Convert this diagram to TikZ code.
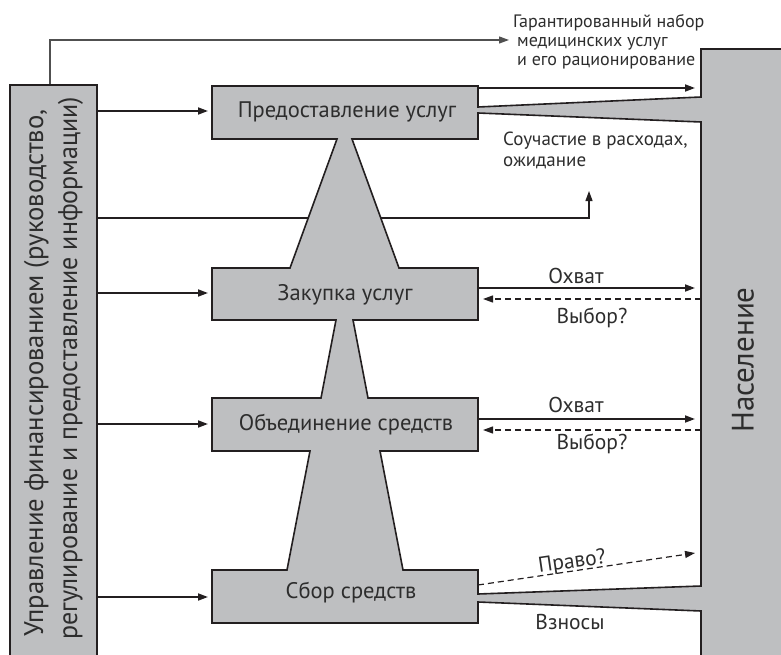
\documentclass[tikz,border=0pt]{standalone}
\usepackage{fontspec}
\usepackage{graphicx}
\setmainfont{PT Sans}
\usetikzlibrary{arrows.meta}
\definecolor{gfill}{RGB}{190,191,193}
\definecolor{inkc}{RGB}{35,31,32}
\definecolor{txtc}{RGB}{45,45,45}
\definecolor{greyline}{RGB}{80,80,80}
\begin{document}
\begin{tikzpicture}[x=1pt,y=-1pt,
  shapeline/.style={draw=inkc,line width=1.6pt,fill=gfill,line join=miter},
  arr/.style={draw=inkc,line width=1.8pt,-{Triangle[length=10pt,width=7pt]}},
  darr/.style={draw=inkc,line width=1.2pt,dash pattern=on 6pt off 4pt,-{Triangle[length=10pt,width=7pt]}},
  thinarr/.style={draw=inkc,line width=1.2pt,-{Triangle[length=10pt,width=7pt]}},
  greyarr/.style={draw=greyline,line width=1.2pt,-{Triangle[length=10pt,width=7pt]}},
  lbl/.style={text=txtc,font=\fontsize{21.5}{20}\selectfont,inner sep=0pt},
  notelbl/.style={text=txtc,font=\fontsize{19}{21}\selectfont,inner sep=0pt},
  boxlbl/.style={text=txtc,font=\fontsize{22.5}{22}\selectfont,inner sep=0pt},
  biglbl/.style={text=txtc,font=\fontsize{27}{27}\selectfont,inner sep=0pt},
  poplbl/.style={text=txtc,font=\fontsize{31}{31}\selectfont,inner sep=0pt},
]
\clip (0,0) rectangle (781,655);

% connectors drawn behind the shapes
\coordinate (lbtop) at (50,84);
\coordinate (garend) at (509,40);
\coordinate (soL) at (96,218);
\coordinate (soEnd) at (589,191);
\draw[greyarr] (lbtop) |- (garend);
\draw[thinarr] (soL) -| (soEnd);

% left box
\node[shapeline,minimum width=87pt,minimum height=586pt,inner sep=0pt,anchor=north west] (lbox) at (9,84) {};

% central column + right box (one outline)
\path[shapeline,even odd rule]
  (212,86) -- (478,86) -- (478,107) -- (701,97) -- (701,49) -- (800,49) -- (800,670)
  -- (701,670) -- (701,611) -- (478,602) -- (478,623) -- (212,623) -- (212,570)
  -- (287,570) -- (310,451) -- (212,451) -- (212,398) -- (321,398) -- (336,320)
  -- (212,320) -- (212,268) -- (290,268) -- (337,139) -- (212,139) -- cycle
  (478,113) -- (701,122) -- (701,586) -- (478,594) -- (478,570) -- (403,570)
  -- (380,451) -- (478,451) -- (478,398) -- (368,398) -- (353,320) -- (478,320)
  -- (478,268) -- (399,268) -- (352,139) -- (478,139) -- cycle;

% labels
\node[boxlbl] (prov) at (347,112) {Предоставление услуг};
\node[boxlbl] (zak) at (345,295) {Закупка услуг};
\node[boxlbl] (obj) at (346,425) {Объединение средств};
\node[boxlbl] (sbor) at (351,593) {Сбор средств};
\node[poplbl,rotate=90] (pop) at (743,360) {Население};
\node[biglbl,rotate=90,anchor=base west] (lt1) at (43,637)
  {\resizebox{527pt}{\height}{Управление финансированием (руководство,}};
\node[biglbl,rotate=90,anchor=base west] (lt2) at (77,640)
  {\resizebox{543pt}{\height}{регулирование и предоставление информации)}};
\node[text=txtc,font=\fontsize{18}{19}\selectfont,inner sep=0pt,anchor=base west,align=left] (gar) at (513,66)
  {Гарантированный набор\\\hspace*{4pt}медицинских услуг\\\hspace*{4pt}и его рационирование};
\node[notelbl,anchor=base west,align=left] (so) at (503,167) {Соучастие в расходах,\\ожидание};
\node[lbl] (ox1) at (576,276) {Охват};
\node[lbl] (vy1) at (592,318) {Выбор?};
\node[lbl] (ox2) at (576,405) {Охват};
\node[lbl] (vy2) at (592,444) {Выбор?};
\node[lbl] (vz) at (570,622) {Взносы};

% left arrows
\coordinate (a1s) at (96,111);  \coordinate (a1e) at (208,111);
\coordinate (a2s) at (96,293);  \coordinate (a2e) at (208,293);
\coordinate (a3s) at (96,424);  \coordinate (a3e) at (208,424);
\coordinate (a4s) at (96,597);  \coordinate (a4e) at (208,597);
\draw[arr] (a1s) -- (a1e);
\draw[arr] (a2s) -- (a2e);
\draw[arr] (a3s) -- (a3e);
\draw[arr] (a4s) -- (a4e);

% right arrows
\coordinate (r1s) at (478,88);  \coordinate (r1e) at (695,88);
\coordinate (r2s) at (478,288); \coordinate (r2e) at (695,288);
\coordinate (r2b) at (701,299); \coordinate (r2c) at (483,299);
\coordinate (r3s) at (478,419); \coordinate (r3e) at (695,419);
\coordinate (r3b) at (701,430); \coordinate (r3c) at (483,430);
\coordinate (prs) at (478,585); \coordinate (pre) at (695,553);
\draw[arr] (r1s) -- (r1e);
\draw[arr] (r2s) -- (r2e);
\draw[darr] (r2b) -- (r2c);
\draw[arr] (r3s) -- (r3e);
\draw[darr] (r3b) -- (r3c);
\draw[darr] (prs) -- node[lbl,pos=0.44,sloped,anchor=base,yshift=3pt] (pravo) {Право?} (pre);
\end{tikzpicture}
\end{document}
